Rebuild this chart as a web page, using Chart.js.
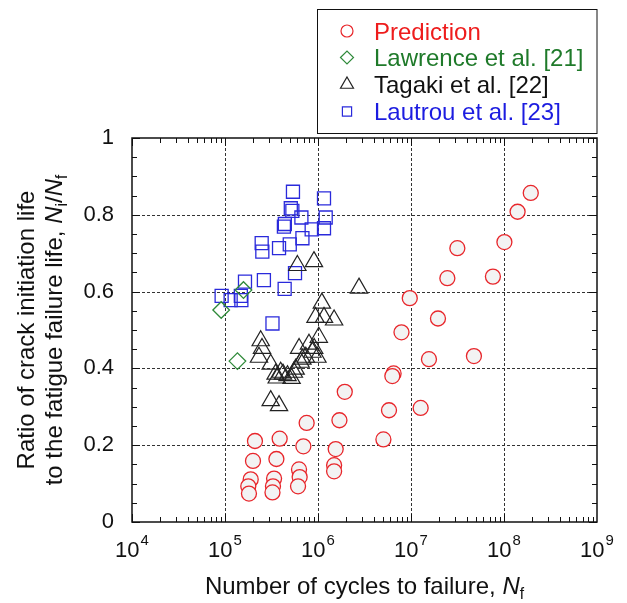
<!DOCTYPE html>
<html>
<head>
<meta charset="utf-8">
<script src="https://cdn.jsdelivr.net/npm/chart.js@4.4.0/dist/chart.umd.min.js"></script>
<style>
  html, body { margin: 0; padding: 0; background: #fff; }
  #wrap { width: 627px; height: 603px; }
</style>
</head>
<body>
<div id="wrap"><canvas id="chart" width="627" height="603"></canvas></div>
<script>
// Number of cycles to failure (x) and Ni/Nf (y)
const predictionCycles = [1.94e8, 1.4e8, 1.01e8, 7.6e7, 3.15e7, 2.46e7, 9.7e6, 1.95e7, 7.9e6, 1.56e7,
    4.75e7, 6.5e6, 6.3e6, 1.94e6, 5.8e6, 1.27e7, 1.7e6, 5.05e6, 7.55e5, 2.1e5,
    3.87e5, 6.96e5, 1.55e6, 2.0e5, 3.57e5, 6.25e5, 1.49e6, 1.49e6, 1.89e5, 3.37e5,
    6.35e5, 1.78e5, 1.81e5, 3.28e5, 3.24e5, 6.1e5];
const predictionRatio = [0.857, 0.808, 0.729, 0.639, 0.713, 0.635, 0.583, 0.530, 0.494, 0.424,
    0.432, 0.387, 0.380, 0.339, 0.291, 0.297, 0.265, 0.215, 0.258, 0.211,
    0.217, 0.197, 0.190, 0.159, 0.164, 0.137, 0.148, 0.132, 0.111, 0.113,
    0.117, 0.093, 0.074, 0.093, 0.077, 0.093];

const lawrenceCycles = [1.58e5, 9.1e4, 1.36e5];
const lawrenceRatio = [0.604, 0.552, 0.419];

const tagakiCycles = [2.76e6, 6.0e5, 9.05e5, 1.1e6, 9.4e5, 1.16e6, 1.49e6, 2.42e5, 2.5e5, 2.32e5,
    3.1e5, 3.5e5, 3.97e5, 3.6e5, 4.2e5, 4.7e5, 5.2e5, 5.5e5, 5.75e5, 6.5e5,
    6.26e5, 6.8e5, 7.4e5, 8e5, 8.7e5, 1.02e6, 9.86e5, 9.1e5, 3.1e5, 3.81e5];
const tagakiRatio = [0.609, 0.668, 0.678, 0.570, 0.533, 0.533, 0.526, 0.472, 0.452, 0.429,
    0.411, 0.385, 0.390, 0.375, 0.385, 0.381, 0.374, 0.390, 0.398, 0.416,
    0.452, 0.424, 0.429, 0.463, 0.442, 0.481, 0.429, 0.452, 0.316, 0.303];

const lautrouCycles = [5.38e5, 1.16e6, 5.1e5, 5.3e5, 6.63e5, 1.21e6, 4.3e5, 4.4e5, 8.55e5, 1.16e6,
    6.8e5, 4.97e5, 2.48e5, 2.52e5, 3.81e5, 5.66e5, 1.64e5, 2.62e5, 4.38e5, 9.2e4,
    1.15e5, 1.48e5, 1.5e5, 3.24e5];
const lautrouRatio = [0.860, 0.843, 0.817, 0.810, 0.793, 0.793, 0.769, 0.776, 0.762, 0.765,
    0.739, 0.723, 0.726, 0.704, 0.713, 0.648, 0.626, 0.630, 0.607, 0.589,
    0.578, 0.589, 0.578, 0.517];

const xTickExponents = [4, 5, 6, 7, 8, 9];
const yTickValues = [0, 0.2, 0.4, 0.6, 0.8, 1];
const yTickLabels = ['0', '0.2', '0.4', '0.6', '0.8', '1'];

const FONT = '"Liberation Sans", Arial, sans-serif';
const RED = '#e8262b';
const GREEN = '#2f8a3a';
const BLACK = '#222222';
const BLUE = '#2a2adb';

function pts(xs, ys) {
    return xs.map((x, i) => ({ x: x, y: ys[i] }));
}

// draws a line of text made of runs (italic, subscript, superscript)
function drawRuns(ctx, runs, x, y, size, color) {
    const fontFor = r => {
        const s = r.sup ? size * 0.68 : (r.sub ? size * 0.65 : size);
        return (r.italic ? 'italic ' : '') + s + 'px ' + FONT;
    };
    let total = 0;
    runs.forEach(r => {
        ctx.font = fontFor(r);
        r.w = ctx.measureText(r.text).width + (r.gap || 0);
        total += r.w;
    });
    let cx = x - total / 2;
    ctx.fillStyle = color;
    ctx.textAlign = 'left';
    ctx.textBaseline = 'alphabetic';
    runs.forEach(r => {
        ctx.font = fontFor(r);
        let dy = 0;
        if (r.sub) dy = size * 0.22;
        if (r.sup) dy = -size * 0.55;
        ctx.fillText(r.text, cx + (r.gap || 0), y + dy);
        cx += r.w;
    });
}

const axisFrame = {
    id: 'axisFrame',
    beforeDatasetsDraw(chart) {
        const { ctx, chartArea: a, scales: { x, y } } = chart;
        ctx.save();
        ctx.strokeStyle = '#333';
        ctx.lineWidth = 1;
        ctx.setLineDash([3, 2]);
        ctx.beginPath();
        xTickExponents.slice(1, -1).forEach(e => {
            const px = Math.round(x.getPixelForValue(Math.pow(10, e))) + 0.5;
            ctx.moveTo(px, a.top);
            ctx.lineTo(px, a.bottom);
        });
        yTickValues.slice(1, -1).forEach(v => {
            const py = Math.round(y.getPixelForValue(v)) + 0.5;
            ctx.moveTo(a.left, py);
            ctx.lineTo(a.right, py);
        });
        ctx.stroke();
        ctx.restore();
    },
    afterDatasetsDraw(chart) {
        const { ctx, chartArea: a, scales: { x, y } } = chart;
        ctx.save();
        ctx.strokeStyle = '#111';
        ctx.lineWidth = 1;
        ctx.beginPath();
        // minor + major ticks on bottom and top, pointing inwards
        for (let e = xTickExponents[0]; e < xTickExponents[xTickExponents.length - 1]; e++) {
            for (let k = 1; k <= 9; k++) {
                const px = Math.round(x.getPixelForValue(k * Math.pow(10, e))) + 0.5;
                const len = k === 1 ? 8 : 5;
                ctx.moveTo(px, a.bottom); ctx.lineTo(px, a.bottom - len);
                ctx.moveTo(px, a.top); ctx.lineTo(px, a.top + len);
            }
        }
        for (let i = 0; i <= 20; i++) {
            const py = Math.round(y.getPixelForValue(i * 0.05)) + 0.5;
            const len = i % 4 === 0 ? 8 : 5;
            ctx.moveTo(a.left, py); ctx.lineTo(a.left + len, py);
            ctx.moveTo(a.right, py); ctx.lineTo(a.right - len, py);
        }
        ctx.stroke();
        ctx.lineWidth = 1.5;
        ctx.strokeRect(a.left, a.top, a.right - a.left, a.bottom - a.top);
        ctx.restore();
    },
    afterDraw(chart) {
        const { ctx, chartArea: a, scales: { x } } = chart;
        ctx.save();
        // x tick labels 10^n
        xTickExponents.forEach(e => {
            const px = x.getPixelForValue(Math.pow(10, e));
            drawRuns(ctx, [{ text: '10' }, { text: String(e), sup: true, gap: 1 }], px, 557, 22, '#111');
        });
        // x title
        drawRuns(ctx, [
            { text: 'Number of cycles to failure, ' },
            { text: 'N', italic: true },
            { text: 'f', sub: true }
        ], (a.left + a.right) / 2, 594, 24, '#111');
        // y title, two rotated lines
        const cy = (a.top + a.bottom) / 2;
        ctx.save();
        ctx.translate(33.5, cy);
        ctx.rotate(-Math.PI / 2);
        drawRuns(ctx, [{ text: 'Ratio of crack initiation life' }], 0, 0, 24, '#111');
        ctx.restore();
        ctx.save();
        ctx.translate(62, cy);
        ctx.rotate(-Math.PI / 2);
        drawRuns(ctx, [
            { text: 'to the fatigue failure life, ' },
            { text: 'N', italic: true },
            { text: 'i', sub: true },
            { text: '/' },
            { text: 'N', italic: true },
            { text: 'f', sub: true }
        ], 0, 0, 24, '#111');
        ctx.restore();

        // legend box
        ctx.strokeStyle = '#111';
        ctx.lineWidth = 1;
        ctx.strokeRect(317.5, 9.5, 279.5, 124);
        const items = [
            { label: 'Prediction', style: 'circle', r: 6, color: RED, text: '#ee1c1c' },
            { label: 'Lawrence et al. [21]', style: 'rectRot', r: 6.5, color: GREEN, text: '#1f7a2a' },
            { label: 'Tagaki et al. [22]', style: 'triangle', r: 7.5, color: BLACK, text: '#111' },
            { label: 'Lautrou et al. [23]', style: 'rect', r: 6.5, color: BLUE, text: '#1c1ce0' }
        ];
        const rows = [31, 57.5, 84.5, 111.5];
        items.forEach((it, i) => {
            ctx.save();
            ctx.strokeStyle = it.color;
            ctx.fillStyle = 'rgba(0,0,0,0)';
            ctx.lineWidth = 1.2;
            Chart.helpers.drawPoint(ctx, { pointStyle: it.style, radius: it.r, rotation: 0, borderWidth: 1.2 }, 347, rows[i]);
            ctx.restore();
            ctx.font = '24px ' + FONT;
            ctx.fillStyle = it.text;
            ctx.textAlign = 'left';
            ctx.textBaseline = 'alphabetic';
            ctx.fillText(it.label, 374, rows[i] + 8.5);
        });
        ctx.restore();
    }
};

new Chart(document.getElementById('chart'), {
    type: 'scatter',
    data: {
        datasets: [
            {
                label: 'Prediction',
                data: pts(predictionCycles, predictionRatio),
                pointStyle: 'circle',
                pointRadius: 7.5,
                borderColor: RED,
                backgroundColor: '#f3f3f3',
                borderWidth: 1.3
            },
            {
                label: 'Lawrence et al. [21]',
                data: pts(lawrenceCycles, lawrenceRatio),
                pointStyle: 'rectRot',
                pointRadius: 8.3,
                borderColor: GREEN,
                backgroundColor: 'rgba(0,0,0,0)',
                borderWidth: 1.3
            },
            {
                label: 'Tagaki et al. [22]',
                data: pts(tagakiCycles, tagakiRatio),
                pointStyle: 'triangle',
                pointRadius: 10,
                borderColor: BLACK,
                backgroundColor: 'rgba(0,0,0,0)',
                borderWidth: 1.2
            },
            {
                label: 'Lautrou et al. [23]',
                data: pts(lautrouCycles, lautrouRatio),
                pointStyle: 'rect',
                pointRadius: 9.2,
                borderColor: BLUE,
                backgroundColor: 'rgba(0,0,0,0)',
                borderWidth: 1.3
            }
        ]
    },
    options: {
        responsive: false,
        animation: false,
        layout: { padding: { top: 138, right: 30, left: 0, bottom: 0 } },
        plugins: {
            legend: { display: false },
            tooltip: { enabled: false }
        },
        scales: {
            x: {
                type: 'logarithmic',
                min: 1e4,
                max: 1e9,
                grid: { display: false },
                border: { display: false },
                ticks: { display: false },
                afterFit: scale => { scale.height = 81; }
            },
            y: {
                min: 0,
                max: 1,
                grid: { display: false },
                border: { display: false },
                afterBuildTicks: scale => { scale.ticks = yTickValues.map(v => ({ value: v })); },
                ticks: {
                    autoSkip: false,
                    padding: 10,
                    color: '#111',
                    font: { family: FONT, size: 22 },
                    callback: value => {
                        const i = yTickValues.findIndex(v => Math.abs(v - value) < 1e-6);
                        return i >= 0 ? yTickLabels[i] : '';
                    }
                },
                afterFit: scale => { scale.width = 132; }
            }
        }
    },
    plugins: [axisFrame]
});
</script>
</body>
</html>
